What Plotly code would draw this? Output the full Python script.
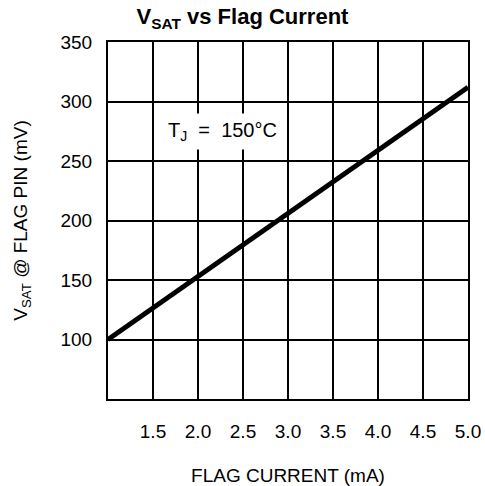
import plotly.graph_objects as go

current_ma = [1.0, 5.0]
vsat_mv = [100, 312]
x_ticks = [1.5, 2.0, 2.5, 3.0, 3.5, 4.0, 4.5, 5.0]
x_tick_text = ["1.5", "2.0", "2.5", "3.0", "3.5", "4.0", "4.5", "5.0"]
y_ticks = [100, 150, 200, 250, 300, 350]

FONT = "Liberation Sans"

fig = go.Figure()
fig.add_trace(go.Scatter(x=current_ma, y=vsat_mv, mode="lines",
                         line=dict(color="black", width=5), showlegend=False,
                         hoverinfo="skip"))

fig.add_annotation(x=2.27, y=275, xref="x", yref="y",
                   text="T<sub>J</sub>  =  150°C", showarrow=False,
                   font=dict(family=FONT, size=20, color="black"),
                   bgcolor="white", borderpad=5)

fig.update_layout(
    width=485, height=486,
    margin=dict(l=108, r=17, t=42, b=87),
    paper_bgcolor="white", plot_bgcolor="white",
    title=dict(text="<b>V<sub>SAT</sub> vs Flag Current</b>",
               font=dict(family=FONT, size=22, color="black"),
               x=0.5, xanchor="center", y=0.982, yanchor="top"),
    font=dict(family=FONT, color="black"),
)

fig.update_xaxes(range=[1.0, 5.0], tickvals=x_ticks, ticktext=x_tick_text,
                 showgrid=True, gridcolor="black", gridwidth=1.5,
                 showline=True, linecolor="black", linewidth=2, mirror=True,
                 zeroline=False, ticks="", ticklabelstandoff=14, automargin=False,
                 tickfont=dict(family=FONT, size=19, color="black"),
                 title=dict(text="FLAG CURRENT (mA)", standoff=30,
                            font=dict(family=FONT, size=19, color="black")))
fig.update_yaxes(range=[50, 350], tickvals=y_ticks,
                 showgrid=True, gridcolor="black", gridwidth=1.5,
                 showline=True, linecolor="black", linewidth=2, mirror=True,
                 zeroline=False, ticks="", ticklabelstandoff=10, automargin=False,
                 tickfont=dict(family=FONT, size=19, color="black"),
                 title=dict(text="V<sub>SAT</sub> @ FLAG PIN (mV)", standoff=28,
                            font=dict(family=FONT, size=19, color="black")))

fig.write_html("out.html", config={"displayModeBar": False},
               post_script="document.body.style.margin='0';")
